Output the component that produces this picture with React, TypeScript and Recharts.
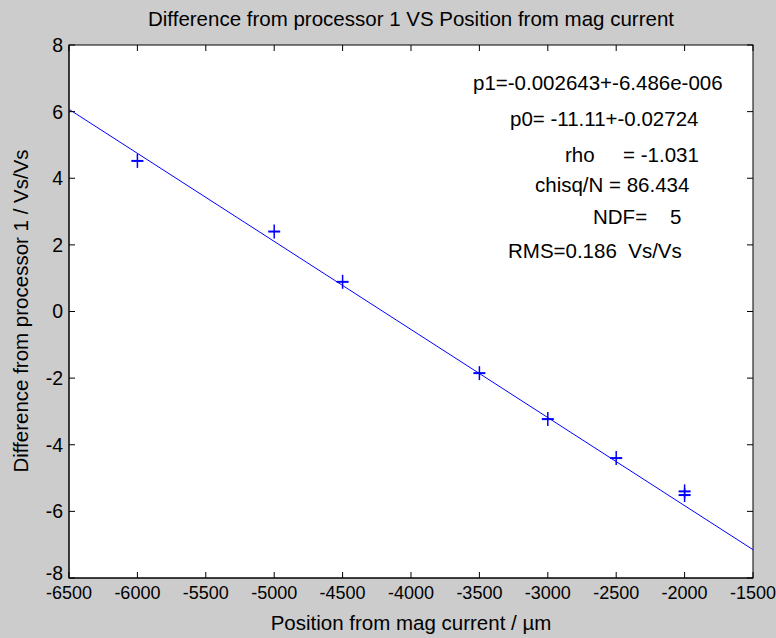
import React from 'react';
import { ComposedChart, Scatter, XAxis, YAxis, CartesianGrid, Customized } from 'recharts';

const xTicks = [-6500, -6000, -5500, -5000, -4500, -4000, -3500, -3000, -2500, -2000, -1500];
const yTicks = [-8, -6, -4, -2, 0, 2, 4, 6, 8];
const positions = [-6000, -5000, -4500, -3500, -3000, -2500, -2000, -2000];
const differences = [4.52, 2.4, 0.89, -1.85, -3.23, -4.4, -5.4, -5.51];
const fitX = [-6500, -1500];
const fitY = [6.07, -7.15];
const title = 'Difference from processor 1 VS Position from mag current';
const xLabel = 'Position from mag current / \u00b5m';
const yLabel = 'Difference from processor 1 / Vs/Vs';
const annotations = [
  'p1=-0.002643+-6.486e-006',
  'p0= -11.11+-0.02724',
  'rho     = -1.031',
  'chisq/N = 86.434',
  'NDF=    5',
  'RMS=0.186  Vs/Vs',
];
const annX = [473, 510, 565, 535, 593, 508];
const annY = [82, 118, 154, 184, 216, 250];

const points = positions.map((x, i) => ({ x, y: differences[i] }));
const fitLine = fitX.map((x, i) => ({ x, y: fitY[i] }));

const W = 776;
const H = 638;
const LEFT = 69;
const TOP = 45;
const RIGHT = 753;
const BOTTOM = 578;
const TICK = 6;
const X_MARGIN = 8;
const Y_MARGIN = 6;

const FONT = '"Liberation Sans", Arial, sans-serif';
const FS = 20.5;
const XFS = 18;
const YFS = 19.5;
const BLUE = '#0000ff';

const Plus = (props: any) => {
  const { cx, cy } = props;
  if (cx == null || cy == null) return <g />;
  return (
    <g>
      <line x1={cx - 6} x2={cx + 6} y1={cy} y2={cy} stroke={BLUE} strokeWidth={2} />
      <line x1={cx} x2={cx} y1={cy - 7} y2={cy + 7} stroke={BLUE} strokeWidth={1.5} />
    </g>
  );
};

const NoShape = () => <g />;

const XTick = (props: any) => {
  const { x, y, payload } = props;
  return (
    <g>
      <line x1={x} x2={x} y1={BOTTOM} y2={BOTTOM - TICK} stroke="#000" />
      <line x1={x} x2={x} y1={TOP} y2={TOP + TICK} stroke="#000" />
      <text x={x} y={y} dy="0.71em" textAnchor="middle" fontFamily={FONT} fontSize={XFS} fill="#000">{payload.value}</text>
    </g>
  );
};

const YTick = (props: any) => {
  const { x, y, payload } = props;
  const lift = payload.value === yTicks[0] ? 5 : 0;
  return (
    <g>
      <line x1={LEFT} x2={LEFT + TICK} y1={y} y2={y} stroke="#000" />
      <line x1={RIGHT} x2={RIGHT - TICK} y1={y} y2={y} stroke="#000" />
      <text x={x} y={y - lift} dy="0.355em" textAnchor="end" fontFamily={FONT} fontSize={YFS} fill="#000">{payload.value}</text>
    </g>
  );
};

const Texts = () => (
  <g fontFamily={FONT} fontSize={FS} fill="#000">
    <rect x={LEFT} y={TOP} width={RIGHT - LEFT} height={BOTTOM - TOP} fill="none" stroke="#000" />
    <text x={411} y={18} textAnchor="middle" dominantBaseline="central">{title}</text>
    <text x={411} y={622} textAnchor="middle" dominantBaseline="central">{xLabel}</text>
    <text x={20} y={311} textAnchor="middle" dominantBaseline="central" transform="rotate(-90 20 311)">{yLabel}</text>
    {annotations.map((a, i) => (
      <text key={i} x={annX[i]} y={annY[i]} dominantBaseline="central" style={{ whiteSpace: 'pre' }}>{a}</text>
    ))}
  </g>
);

export default function App() {
  return (
    <div style={{ position: 'absolute', left: 0, top: 0, width: W, height: H, background: '#cccccc' }}>
      <ComposedChart width={W} height={H} margin={{ top: TOP, right: W - RIGHT, bottom: 0, left: 0 }}>
        <CartesianGrid fill="#ffffff" horizontal={false} vertical={false} stroke="none" />
        <XAxis xAxisId="b" dataKey="x" type="number" domain={[-6500, -1500]} ticks={xTicks} allowDataOverflow
          height={H - BOTTOM} tickSize={0} tickMargin={X_MARGIN} tickLine={false} axisLine={{ stroke: '#000' }} tick={XTick} interval={0} />
        <YAxis yAxisId="l" dataKey="y" type="number" domain={[-8, 8]} ticks={yTicks} allowDataOverflow
          width={LEFT} tickSize={0} tickMargin={Y_MARGIN} tickLine={false} axisLine={{ stroke: '#000' }} tick={YTick} interval={0} />
        <Scatter xAxisId="b" yAxisId="l" data={fitLine} line={{ stroke: BLUE, strokeWidth: 1 }} shape={NoShape} isAnimationActive={false} />
        <Scatter xAxisId="b" yAxisId="l" data={points} shape={Plus} isAnimationActive={false} />
        <Customized component={Texts} />
      </ComposedChart>
    </div>
  );
}
